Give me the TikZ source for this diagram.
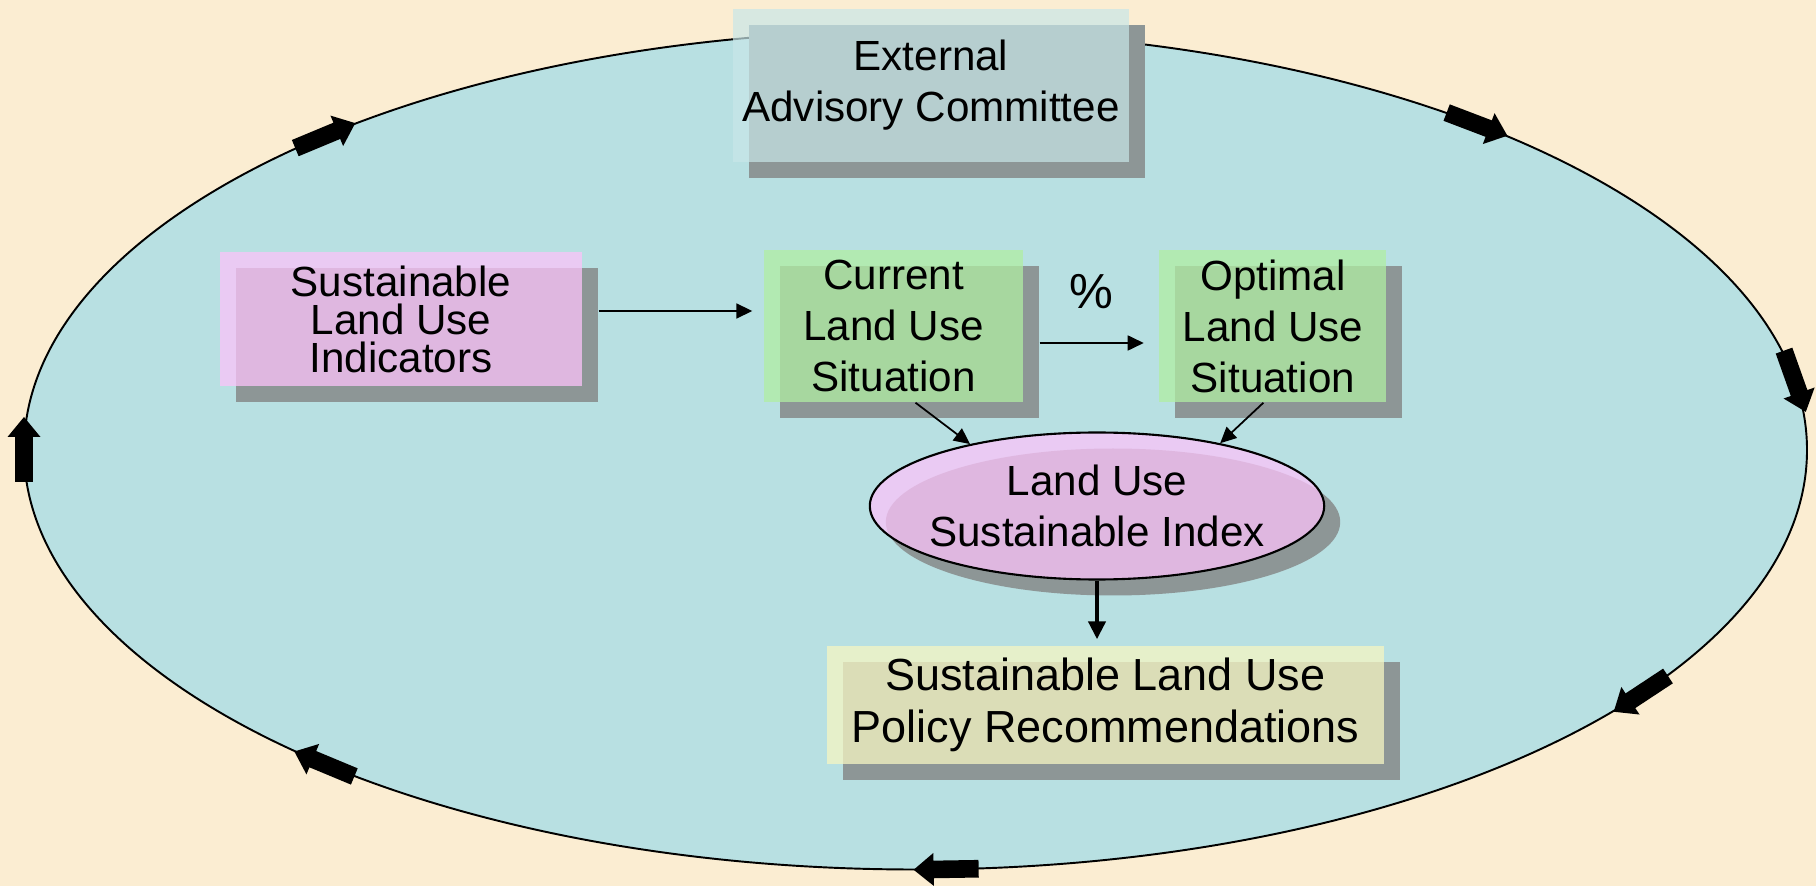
\documentclass[tikz,border=0pt]{standalone}
\usepackage{fontspec}
\setmainfont{Liberation Sans}
\usepackage{xcolor}
\definecolor{paperBeige}{HTML}{FBEDD2}
\definecolor{loopCyan}{HTML}{B8E0E2}
\definecolor{shadeGray}{HTML}{8D9696}
\definecolor{boxTeal}{HTML}{C8E6E8}
\definecolor{boxPink}{HTML}{FBC3F9}
\definecolor{boxGreen}{HTML}{B1EEA3}
\definecolor{boxCream}{HTML}{F6F6C3}
\usepackage{tikz}
\usetikzlibrary{shapes, arrows.meta, positioning, shadows, calc}

\begin{document}
\begin{tikzpicture}[
    panel/.style={
        rectangle,
        fill opacity=0.75,
        text opacity=1,
        inner sep=1pt,
        align=center,
        font=\fontsize{12}{14.5}\selectfont,
        drop shadow={shadow xshift=0.16cm, shadow yshift=-0.16cm, fill=shadeGray, draw=none, opacity=1}
    },
    link/.style={-{Triangle[length=0.16cm, width=0.15cm]}, line width=0.5pt}
]

\fill[paperBeige] (0,0) rectangle (18.16,8.86);
\coordinate (hub) at (9.155,4.36);
\draw[fill=loopCyan, line width=0.55pt] (hub) ellipse (8.915cm and 4.195cm);

% block arrows round the loop
\foreach \t in {131.5,51,9.5,-35.5,-88,-131.5,180} {
    \pgfmathsetmacro\ang{atan2(-4.195*cos(\t), 8.915*sin(\t))}
    \fill[shift={(hub)}, shift={(\t:8.915cm and 4.195cm)}, rotate=\ang]
        (-0.32,-0.088) -- (0.13,-0.088) -- (0.13,-0.165) -- (0.33,0)
        -- (0.13,0.165) -- (0.13,0.088) -- (-0.32,0.088) -- cycle;
}

\node[panel, fill=boxTeal, fill opacity=0.7, minimum width=3.96cm, minimum height=1.53cm] (eac) at (9.31,8.005) {External\\Advisory Committee};
\node[panel, fill=boxPink, minimum width=3.62cm, minimum height=1.34cm, font=\fontsize{12}{10.8}\selectfont] (ind) at (4.01,5.67) {Sustainable\\Land Use\\Indicators};
\node[panel, fill=boxGreen, minimum width=2.59cm, minimum height=1.52cm] (cur) at (8.935,5.60) {Current\\Land Use\\Situation};
\node[panel, fill=boxGreen, minimum width=2.27cm, minimum height=1.52cm, right=1.35cm of cur] (opt) {Optimal\\Land Use\\Situation};
\node[panel, ellipse, draw=black, line width=0.6pt, fill=boxPink, minimum height=1.47cm, inner xsep=-0.07cm, inner ysep=0pt] (lusi) at (10.97,3.80) {Land Use\\Sustainable Index};
\node[panel, fill=boxCream, minimum width=5.57cm, minimum height=1.18cm, font=\fontsize{12.8}{14.8}\selectfont] (pol) at (11.055,1.81) {Sustainable Land Use\\Policy Recommendations};

\draw[link, shorten <=0.16cm, shorten >=0.11cm] ([yshift=0.08cm]ind.east) -- ([yshift=0.08cm]ind.east -| cur.west);
\draw[link, shorten <=0.16cm, shorten >=0.15cm] ([yshift=-0.17cm]cur.east) -- ([yshift=-0.17cm]cur.east -| opt.west)
    node[midway, above=0.33cm, inner sep=0pt, font=\fontsize{14}{16}\selectfont] (pct) {\%};
\draw[link] ([xshift=0.22cm]cur.south) -- (lusi.154);
\draw[link] ([xshift=-0.095cm]opt.south) -- (lusi.27);
\draw[-{Triangle[length=0.18cm, width=0.17cm]}, line width=1.2pt, shorten >=0.06cm] (lusi.south) -- (lusi.south |- pol.north);
\end{tikzpicture}
\end{document}
